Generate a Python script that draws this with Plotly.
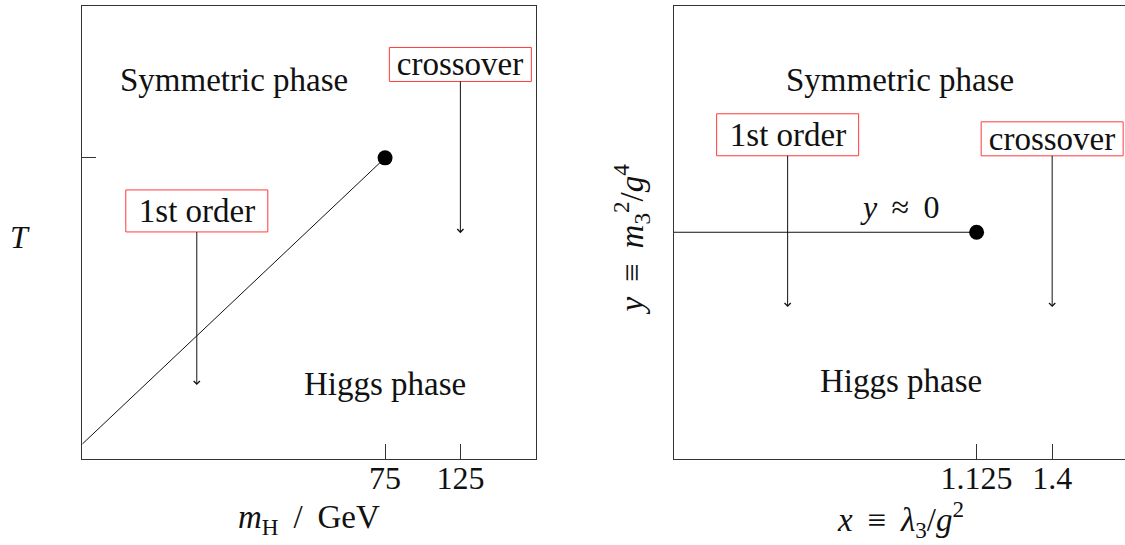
import plotly.graph_objects as go

# ---- left panel: (m_H, T) plane ----
mh_ticks = [75, 125]
mh_ticktext = ["75", "125"]
mh_range = [-126, 175]
t_range = [0.0, 1.0]
t_endpoint = 0.664          # temperature at the critical endpoint
boundary_mh = [-126, 75]    # first-order transition line
boundary_t = [0.033, 0.664]
endpoint_mh = [75]
endpoint_t = [0.664]
first_order_mh = -50
first_order_arrow = [0.547, 0.163]   # label centre, arrow tip (T)
crossover_mh = 125
crossover_arrow = [0.870, 0.498]

# ---- right panel: (x, y) plane ----
x_ticks = [1.125, 1.4]
x_ticktext = ["1.125", "1.4"]
x_range = [0.024, 1.665]
y_range = [0.0, 1.0]
line_x = [0.024, 1.125]
line_y = [0.5, 0.5]
end_x = [1.125]
end_y = [0.5]
first_order_x = 0.4375
first_order_arrow_r = [0.715, 0.335]
crossover_x = 1.4
crossover_arrow_r = [0.706, 0.335]

FONT = "Liberation Serif"
INK = "#111111"
FRAME = "#333333"
BOX = "#ff3b3b"
THIN = "\u2009"

fig = go.Figure()

fig.add_trace(go.Scatter(x=boundary_mh, y=boundary_t, mode="lines",
                         line=dict(color=INK, width=1), xaxis="x", yaxis="y",
                         showlegend=False, hoverinfo="skip"))
fig.add_trace(go.Scatter(x=endpoint_mh, y=endpoint_t, mode="markers",
                         marker=dict(color="black", size=15), xaxis="x", yaxis="y",
                         showlegend=False))
fig.add_trace(go.Scatter(x=line_x, y=line_y, mode="lines",
                         line=dict(color=INK, width=1), xaxis="x2", yaxis="y2",
                         showlegend=False, hoverinfo="skip", cliponaxis=False))
fig.add_trace(go.Scatter(x=end_x, y=end_y, mode="markers",
                         marker=dict(color="black", size=15), xaxis="x2", yaxis="y2",
                         showlegend=False))

ann = []
shapes = []
BOX_W = 142


def boxed(text, xref, yref, x, tail_y, head_y, h):
    # label text with its arrow; the arrow is clipped at the text box edge
    ann.append(dict(text=text, xref=xref, yref=yref, axref=xref, ayref=yref,
                    x=x, y=head_y, ax=x, ay=tail_y, showarrow=True,
                    arrowhead=4, arrowsize=1.2, arrowwidth=1, arrowcolor=INK,
                    borderwidth=0, borderpad=0,
                    width=BOX_W, height=h,
                    font=dict(family=FONT, size=33, color=INK)))
    # red frame around the label
    shapes.append(dict(type="rect", xref=xref, yref=yref,
                       xsizemode="pixel", ysizemode="pixel",
                       xanchor=x, yanchor=tail_y,
                       x0=-BOX_W / 2, x1=BOX_W / 2, y0=-h / 2, y1=h / 2,
                       line=dict(color=BOX, width=1), fillcolor="rgba(0,0,0,0)"))


def label(text, xref, yref, x, y, size=33, angle=0):
    ann.append(dict(text=text, xref=xref, yref=yref, x=x, y=y, showarrow=False,
                    textangle=angle, xanchor="center", yanchor="middle",
                    font=dict(family=FONT, size=size, color=INK)))


boxed("crossover", "x", "y", crossover_mh, crossover_arrow[0], crossover_arrow[1], 34)
boxed("1st order", "x", "y", first_order_mh, first_order_arrow[0], first_order_arrow[1], 42)
boxed("1st order", "x2", "y2", first_order_x, first_order_arrow_r[0], first_order_arrow_r[1], 42)
boxed("crossover", "x2", "y2", crossover_x, crossover_arrow_r[0], crossover_arrow_r[1], 34)

label("Symmetric phase", "x", "y", -25.6, 0.836)
label("Higgs phase", "x", "y", 75, 0.165)
label("Symmetric phase", "x2", "y2", 0.848, 0.836)
label("Higgs phase", "x2", "y2", 0.851, 0.172)
label(f"<i>y</i>{THIN} ≈ {THIN}0", "x2", "y2", 0.846, 0.555, size=32)

label("<i>T</i>", "paper", "paper", 0.0178, 0.565, size=32)
label(f"<i>m</i><sub>H</sub>{THIN} / {THIN}GeV", "paper", "paper", 0.2747, 0.046, size=33)
label(f"<i>x</i>{THIN} ≡ {THIN}<i>λ</i><sub>3</sub>/<i>g</i><sup>2</sup>", "paper", "paper",
      0.800, 0.046, size=33)
label(f"<i>y</i>{THIN} ≡ {THIN}<i>m</i><sub>3</sub><sup>2</sup>/<i>g</i><sup>4</sup>", "paper", "paper",
      0.5615, 0.562, size=33, angle=-90)

axis_common = dict(showgrid=False, zeroline=False, showline=True, linecolor=FRAME,
                   linewidth=1, tickcolor=FRAME, tickwidth=1,
                   tickfont=dict(family=FONT, size=32, color=INK))

fig.update_layout(
    width=1125, height=545,
    margin=dict(l=0, r=0, t=0, b=0),
    paper_bgcolor="white", plot_bgcolor="white",
    showlegend=False,
    xaxis=dict(domain=[0.07316, 0.47618], range=mh_range, mirror=True,
               tickmode="array", tickvals=mh_ticks, ticktext=mh_ticktext,
               ticks="inside", ticklen=15, ticklabelstandoff=-9, **axis_common),
    yaxis=dict(domain=[0.1578, 0.9899], range=t_range, mirror=True,
               tickmode="array", tickvals=[t_endpoint], ticktext=[""],
               ticks="inside", ticklen=14, **axis_common),
    xaxis2=dict(domain=[0.59911, 1.0], range=x_range, mirror=True, anchor="y2",
                tickmode="array", tickvals=x_ticks, ticktext=x_ticktext,
                ticks="inside", ticklen=15, ticklabelstandoff=-9, **axis_common),
    yaxis2=dict(domain=[0.1578, 0.9899], range=y_range, anchor="x2",
                showticklabels=False, ticks="", **axis_common),
    annotations=ann,
    shapes=shapes,
)

fig.write_html("out.html")
